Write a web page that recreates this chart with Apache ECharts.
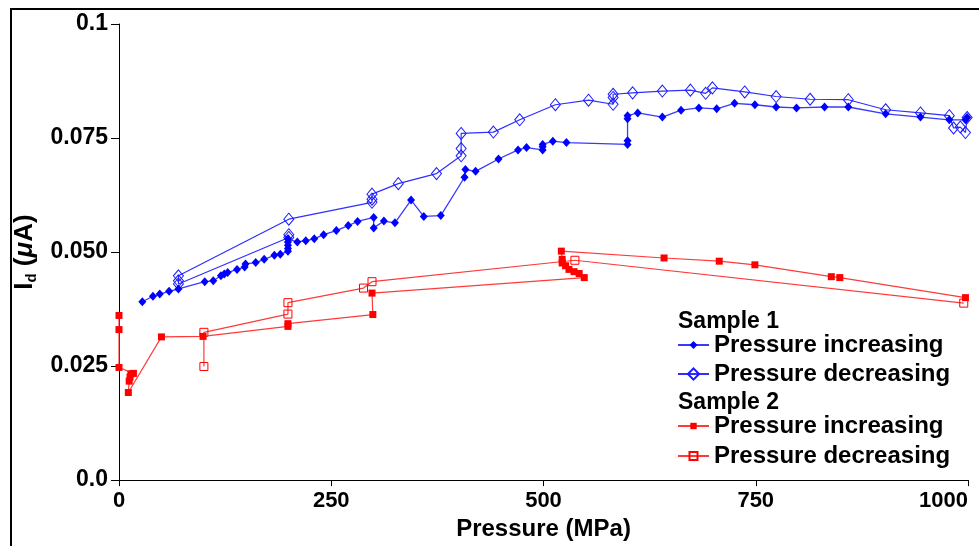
<!DOCTYPE html>
<html>
<head>
<meta charset="utf-8">
<script src="https://cdn.jsdelivr.net/npm/echarts@6/dist/echarts.min.js"></script>
<style>html,body{margin:0;padding:0;background:#fff;}#c{width:979px;height:546px;}</style>
</head>
<body>
<div id="c"></div>
<script>
// [pressure MPa, Id µA]
var s1Increasing = [[27.5,0.0391],[40,0.0403],[48,0.0408],[59,0.0414],[70,0.0419],[101,0.0435],[111,0.0437],[120,0.0448],[124,0.0452],[128,0.0455],[139,0.0462],[148,0.0467],[149,0.0474],[161,0.0477],[171,0.0484],[183,0.0493],[190,0.0495],[199,0.0502],[199,0.0508],[199,0.0515],[199,0.0522],[199,0.0529],[210,0.0522],[220,0.0525],[230,0.0529],[241,0.0538],[256,0.0547],[270,0.0558],[281,0.0567],[300,0.0576],[300,0.0553],[312,0.0568],[325,0.0564],[344,0.0614],[359,0.0578],[379,0.058],[407,0.0664],[408,0.0681],[420,0.0677],[447,0.0704],[470,0.0724],[480,0.0729],[499,0.0724],[499,0.0731],[499,0.0736],[511,0.0743],[527,0.074],[599,0.0736],[599,0.0744],[599,0.0792],[599,0.0799],[611,0.0805],[640,0.0796],[662,0.0811],[683,0.0816],[704,0.0814],[725,0.0826],[749,0.0823],[774,0.0818],[798,0.0816],[831,0.0818],[859,0.0818],[903,0.0803],[944,0.0796],[978,0.079],[997,0.079],[999,0.0795]];
var s1Decreasing = [[999,0.0795],[997,0.0762],[991,0.0774],[983,0.0772],[978,0.0799],[944,0.0805],[903,0.0812],[859,0.0834],[814,0.0835],[774,0.0841],[737,0.0851],[699,0.086],[691,0.0848],[673,0.0855],[640,0.0853],[605,0.0849],[582,0.0846],[582,0.0839],[582,0.0824],[553,0.0833],[514,0.0823],[472,0.079],[441,0.0763],[403,0.076],[403,0.0727],[403,0.0711],[374,0.0672],[329,0.065],[298,0.0627],[298,0.0616],[298,0.0609],[200,0.0572],[70,0.0448],[70,0.0437],[70,0.043],[200,0.0532],[200,0.0538]];
var s2Increasing = [[0,0.0361],[0,0.033],[0,0.0247],[17,0.0234],[14,0.0233],[13,0.0226],[12,0.0217],[11,0.0192],[50,0.0314],[99,0.0315],[199,0.0337],[199,0.0343],[299,0.0363],[298,0.041],[548,0.0444],[542,0.0453],[536,0.0457],[530,0.0462],[526,0.047],[522,0.0476],[522,0.0484],[521,0.0502],[642,0.0487],[707,0.048],[749,0.0472],[839,0.0446],[849,0.0444],[997,0.04]];
var s2Decreasing = [[995,0.0388],[537,0.0482],[298,0.0435],[288,0.0421],[199,0.0389],[199,0.0364],[100,0.0324],[100,0.0249]];
var xTicks = [0,250,500,750,1000];
var yTickLabels = {'0':'0.0','0.025':'0.025','0.05':'0.050','0.075':'0.075','0.1':'0.1'};
var legendNames = {'s1inc':'Pressure increasing','s1dec':'Pressure decreasing','s2inc':'Pressure increasing','s2dec':'Pressure decreasing'};

var FF = '"Liberation Sans", Arial, sans-serif';
var chart = echarts.init(document.getElementById('c'), null, {renderer:'canvas'});

function legendCfg(name, top, ih){
  return {
    data:[name], left:677, top:top, orient:'vertical', padding:0,
    itemWidth:31, itemHeight:ih, itemGap:0, selectedMode:false,
    formatter:function(n){return legendNames[n];},
    textStyle:{fontFamily:FF, fontWeight:'bold', fontSize:24, color:'#000', lineHeight:24}
  };
}

var option = {
  animation:false,
  backgroundColor:'#fff',
  grid:{left:119, right:11, top:24, bottom:57, containLabel:false},
  xAxis:{
    type:'value', min:0, max:1000, interval:250,
    name:'Pressure (MPa)', nameLocation:'middle', nameGap:26,
    nameTextStyle:{fontFamily:FF, fontWeight:'bold', fontSize:24, color:'#000'},
    axisLine:{show:true, onZero:false, lineStyle:{color:'#000', width:1}},
    axisTick:{show:true, length:6, inside:false, lineStyle:{color:'#000'}},
    splitLine:{show:false},
    axisLabel:{fontFamily:FF, fontWeight:'bold', fontSize:22, color:'#000', margin:10,
      alignMaxLabel:'right', formatter:function(v){return xTicks.indexOf(v)>=0 ? String(v) : '';}}
  },
  yAxis:{
    type:'value', min:0, max:0.1, interval:0.025,
    name:'{a|I}{b|d}{a| (}{c|μ}{a|A)}', nameLocation:'middle', nameGap:72, nameRotate:90,
    nameTextStyle:{color:'#000', rich:{
      a:{fontFamily:FF, fontWeight:'bold', fontSize:26, lineHeight:30, color:'#000'},
      b:{fontFamily:FF, fontWeight:'bold', fontSize:15, lineHeight:15, verticalAlign:'bottom', color:'#000'},
      c:{fontFamily:FF, fontWeight:'bold', fontStyle:'italic', fontSize:26, lineHeight:30, color:'#000'}
    }},
    axisLine:{show:true, lineStyle:{color:'#000', width:1}},
    axisTick:{show:true, length:8, lineStyle:{color:'#000'}},
    splitLine:{show:false},
    axisLabel:{fontFamily:FF, fontWeight:'bold', fontSize:23, color:'#000', margin:11,
      formatter:function(v){var k=String(+v.toFixed(3)); return yTickLabels[k]!==undefined?yTickLabels[k]:'';}}
  },
  legend:[legendCfg('s1inc',333,10), legendCfg('s1dec',362,14), legendCfg('s2inc',414,8), legendCfg('s2dec',444,10)],
  graphic:[
    {type:'rect', shape:{x:11, y:9, width:1100, height:1000}, style:{fill:'none', stroke:'#000', lineWidth:2}, silent:true},
    {type:'text', x:678, y:322, style:{text:'Sample 1', font:'bold 23px '+FF, fill:'#000', verticalAlign:'middle'}},
    {type:'text', x:678, y:403, style:{text:'Sample 2', font:'bold 23px '+FF, fill:'#000', verticalAlign:'middle'}}
  ],
  series:[
    {name:'s2dec', type:'line', data:s2Decreasing, symbol:'rect', symbolSize:8,
      itemStyle:{color:'rgba(255,255,255,0)', borderColor:'#ff0000', borderWidth:1},
      lineStyle:{color:'#ff3a3a', width:1.2}, z:2},
    {name:'s2inc', type:'line', data:s2Increasing, symbol:'rect', symbolSize:7,
      itemStyle:{color:'#ff0000'}, lineStyle:{color:'#ff3a3a', width:1.2}, z:3},
    {name:'s1dec', type:'line', data:s1Decreasing, symbol:'diamond', symbolSize:[10,12],
      itemStyle:{color:'rgba(255,255,255,0)', borderColor:'#1a1aff', borderWidth:1},
      lineStyle:{color:'#2f2fff', width:1.2}, z:4},
    {name:'s1inc', type:'line', data:s1Increasing, symbol:'diamond', symbolSize:[8,9],
      itemStyle:{color:'#0000ff'}, lineStyle:{color:'#3a3aff', width:1.3}, z:5}
  ]
};
chart.setOption(option);
</script>
</body>
</html>
